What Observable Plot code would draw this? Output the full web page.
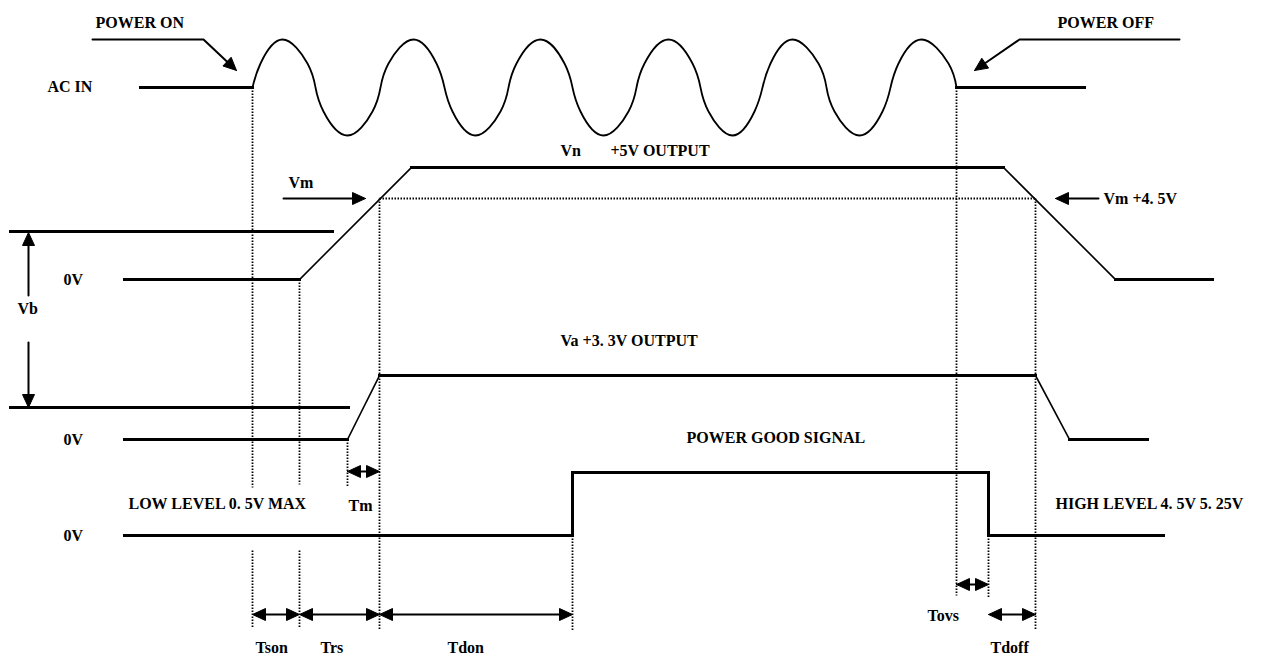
<!DOCTYPE html>
<html><head><meta charset="utf-8">
<script src="https://cdn.jsdelivr.net/npm/d3@7"></script>
<script src="https://cdn.jsdelivr.net/npm/@observablehq/plot@0.6"></script>
<style>body{margin:0;background:#fff}</style>
</head><body><div id="chart"></div>
<script>
// ---- Timing data (x = time units, y = signal level units) ----
const acMid = 87, acHigh = 39, acLow = 135;
const acInBefore = [[140, 87], [252, 87]];
const acInAfter = [[956, 87], [1084, 87]];
const acCrossings = [252, 315, 380, 444, 508, 572, 636, 700, 762, 826, 890, 956];
const acPeaks = [282, 413, 540, 668, 792, 921];
const acTroughs = [347, 475, 603, 732, 859];
// shoulder of each half-wave as read from the first cycle: offset from the crossing and share of the swing
const acShoulderDx = 8, acShoulderShare = 0.5;

const traceVn = [[124, 279], [299, 279], [411, 167], [1003, 167], [1115, 279], [1212, 279]];
const traceVa = [[124, 439], [347, 439], [379, 375], [1035, 375], [1069, 439], [1147, 439]];
const tracePG = [[124, 535], [572, 535], [572, 472], [988, 472], [988, 535], [1163, 535]];
const vbRefLines = [[10, 332, 231], [10, 348, 407]];

const markerV = [
  [252, 87, 487], [252, 550, 628], [299, 279, 484], [299, 550, 628],
  [347, 439, 486], [379, 198, 630], [572, 535, 630], [956, 87, 595],
  [988, 472, 597], [1035, 198, 630]
];
const markerH = [[379, 1035, 198]];

const arrows = [
  {pts: [[92, 39], [203, 39], [236, 70]], heads: "end"},
  {pts: [[1179, 39], [1019, 39], [974, 70]], heads: "end"},
  {pts: [[283, 198], [365, 198]], heads: "end"},
  {pts: [[1098, 198], [1055, 198]], heads: "end"},
  {pts: [[28, 295], [28, 232]], heads: "end"},
  {pts: [[28, 342], [28, 407]], heads: "end"},
  {pts: [[347, 471], [379, 471]], heads: "both"},
  {pts: [[252, 614], [299, 614]], heads: "both"},
  {pts: [[299, 614], [379, 614]], heads: "both"},
  {pts: [[379, 614], [572, 614]], heads: "both"},
  {pts: [[956, 584], [988, 584]], heads: "both"},
  {pts: [[988, 614], [1035, 614]], heads: "both"}
];

const labels = [
  ["POWER ON", 95, 22], ["POWER OFF", 1057, 22], ["AC IN", 47, 86],
  ["Vn", 560, 150], ["+5V OUTPUT", 610, 150], ["Vm", 288, 182],
  ["Vm +4. 5V", 1103, 198], ["0V", 63, 279], ["Vb", 17, 308],
  ["Va +3. 3V OUTPUT", 560, 340], ["0V", 63, 439], ["POWER GOOD SIGNAL", 686, 437],
  ["LOW LEVEL 0. 5V MAX", 128, 503], ["Tm", 348, 505], ["HIGH LEVEL 4. 5V 5. 25V", 1055, 503],
  ["0V", 63, 535], ["Tson", 255, 647], ["Trs", 320, 647], ["Tdon", 447, 647],
  ["Tovs", 927, 615], ["Tdoff", 990, 647]
];

// ---- Build mark tables ----
const extremes = acPeaks.map(x => [x, acHigh]).concat(acTroughs.map(x => [x, acLow])).sort((a, b) => a[0] - b[0]);
const wave = [];
acCrossings.forEach(x => wave.push([x, acMid]));
extremes.forEach(([x, level], i) => {
  const c0 = acCrossings[i], c1 = acCrossings[i + 1];
  const yS = acMid + acShoulderShare * (level - acMid);
  wave.push([c0 + acShoulderDx, yS]);
  wave.push([x, level]);
  wave.push([c1 - acShoulderDx, yS]);
});
wave.sort((a, b) => a[0] - b[0]);

function segments(trace) {
  const out = [];
  for (let i = 0; i < trace.length - 1; i++) {
    const [x1, y1] = trace[i], [x2, y2] = trace[i + 1];
    out.push({x1, y1, x2, y2, ramp: x1 !== x2 && y1 !== y2});
  }
  return out;
}
const traceSegs = [traceVn, traceVa, tracePG, acInBefore, acInAfter].flatMap(segments)
  .concat(vbRefLines.map(([x1, x2, y]) => ({x1, x2, y1: y, y2: y, ramp: false})));

const dotted = markerV.map(([x, y1, y2]) => ({x1: x, x2: x, y1, y2}))
  .concat(markerH.map(([x1, x2, y]) => ({x1, x2, y1: y, y2: y})));

const headL = 13, headW = 6;
const shafts = [], heads = [];
arrows.forEach((a, ai) => {
  const pts = a.pts.map(p => p.slice());
  const addHead = (tip, prev, id) => {
    const dx = tip[0] - prev[0], dy = tip[1] - prev[1];
    const len = Math.hypot(dx, dy), ux = dx / len, uy = dy / len;
    const bx = tip[0] - headL * ux, by = tip[1] - headL * uy;
    const tri = [[tip[0], tip[1]], [bx - headW * uy, by + headW * ux], [bx + headW * uy, by - headW * ux], [tip[0], tip[1]]];
    tri.forEach(([x, y]) => heads.push({id, x, y}));
    return [tip[0] - (headL - 2) * ux, tip[1] - (headL - 2) * uy];
  };
  const n = pts.length;
  const endTip = pts[n - 1].slice();
  pts[n - 1] = addHead(endTip, pts[n - 2], ai + "e");
  if (a.heads === "both") {
    const startTip = pts[0].slice();
    pts[0] = addHead(startTip, a.pts[1], ai + "s");
  }
  pts.forEach(([x, y]) => shafts.push({id: ai, x, y}));
});

const labelRows = labels.map(([text, x, y]) => ({text, x, y}));

const chart = Plot.plot({
  width: 1268, height: 655, margin: 0,
  x: {domain: [0, 1268], range: [0, 1268], axis: null},
  y: {domain: [0, 655], range: [0, 655], axis: null},
  style: {background: "white", overflow: "visible"},
  marks: [
    Plot.link(dotted, {x1: "x1", y1: "y1", x2: "x2", y2: "y2", stroke: "black", strokeWidth: 1.8, strokeDasharray: "1.5,1.5"}),
    Plot.line(wave, {x: d => d[0], y: d => d[1], curve: "natural", stroke: "black", strokeWidth: 1.8}),
    Plot.link(traceSegs, {x1: "x1", y1: "y1", x2: "x2", y2: "y2", stroke: "black",
      strokeWidth: d => d.ramp ? 1.6 : 3, strokeLinecap: "square"}),
    Plot.line(shafts, {x: "x", y: "y", z: "id", stroke: "black", strokeWidth: 2}),
    Plot.line(heads, {x: "x", y: "y", z: "id", stroke: "black", fill: "black", strokeWidth: 1, strokeLinejoin: "miter"}),
    Plot.text(labelRows, {x: "x", y: "y", text: "text", textAnchor: "start", lineAnchor: "middle",
      fontSize: 16, fontWeight: "bold", fontFamily: "Liberation Serif", fill: "black"})
  ]
});
document.getElementById("chart").appendChild(chart);
</script>
</body></html>
